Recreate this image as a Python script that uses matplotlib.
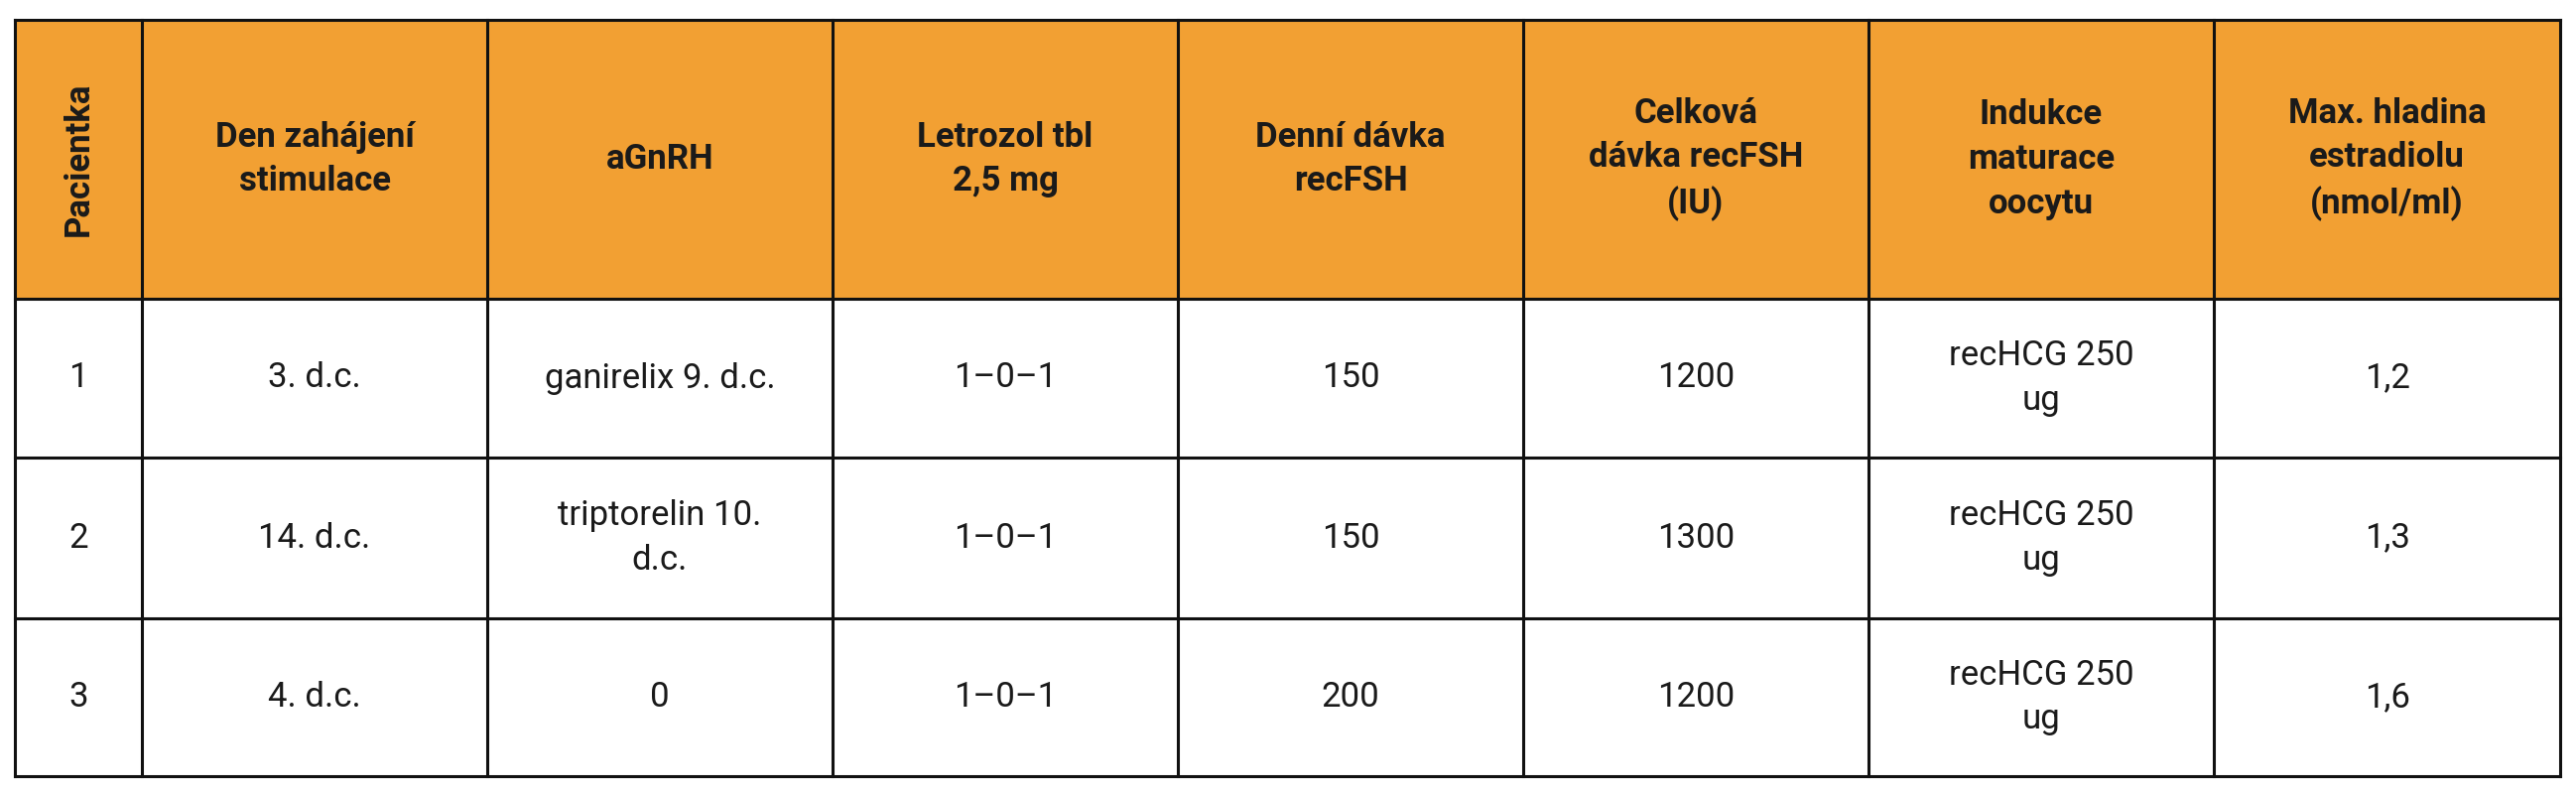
import matplotlib.pyplot as plt

# data
headers = ["Pacientka", "Den zahájení\nstimulace", "aGnRH", "Letrozol tbl\n2,5 mg",
           "Denní dávka\nrecFSH", "Celková\ndávka recFSH\n(IU)", "Indukce\nmaturace\noocytu",
           "Max. hladina\nestradiolu\n(nmol/ml)"]
pacientka = ["1", "2", "3"]
den_zahajeni = ["3. d.c.", "14. d.c.", "4. d.c."]
agnrh = ["ganirelix 9. d.c.", "triptorelin 10.\nd.c.", "0"]
letrozol = ["1–0–1", "1–0–1", "1–0–1"]
denni_davka = ["150", "150", "200"]
celkova_davka = ["1200", "1300", "1200"]
indukce = ["recHCG 250\nug", "recHCG 250\nug", "recHCG 250\nug"]
estradiol = ["1,2", "1,3", "1,6"]

columns = [pacientka, den_zahajeni, agnrh, letrozol, denni_davka,
           celkova_davka, indukce, estradiol]

W, H = 2596, 800
fig = plt.figure(figsize=(W / 100, H / 100), dpi=100)
ax = fig.add_axes([0, 0, 1, 1])
ax.set_xlim(0, W)
ax.set_ylim(H, 0)
ax.axis('off')

x_edges = [15, 143, 491, 839, 1187, 1535, 1883, 2231, 2580]
y_edges = [20, 301, 461, 623, 782]
orange = '#F2A033'
font = 'Roboto'

ax.add_patch(plt.Rectangle((x_edges[0], y_edges[0]), x_edges[-1] - x_edges[0],
                           y_edges[1] - y_edges[0], color=orange, zorder=0))

for x in x_edges:
    ax.plot([x, x], [y_edges[0], y_edges[-1]], color='#111111', lw=2.2, zorder=2)
for y in y_edges:
    ax.plot([x_edges[0], x_edges[-1]], [y, y], color='#111111', lw=2.2, zorder=2)

for i, h in enumerate(headers):
    cx = (x_edges[i] + x_edges[i + 1]) / 2
    cy = (y_edges[0] + y_edges[1]) / 2
    ax.text(cx, cy, h, ha='center', va='center', ma='center', fontsize=25,
            fontweight='bold', family=font, color='#1a1a1a', linespacing=1.45,
            rotation=90 if i == 0 else 0)

for i, col in enumerate(columns):
    cx = (x_edges[i] + x_edges[i + 1]) / 2
    for r, val in enumerate(col):
        cy = (y_edges[r + 1] + y_edges[r + 2]) / 2
        ax.text(cx, cy, val, ha='center', va='center', ma='center', fontsize=25,
                family=font, color='#1a1a1a', linespacing=1.45)

fig.savefig('out.png', dpi=100)
